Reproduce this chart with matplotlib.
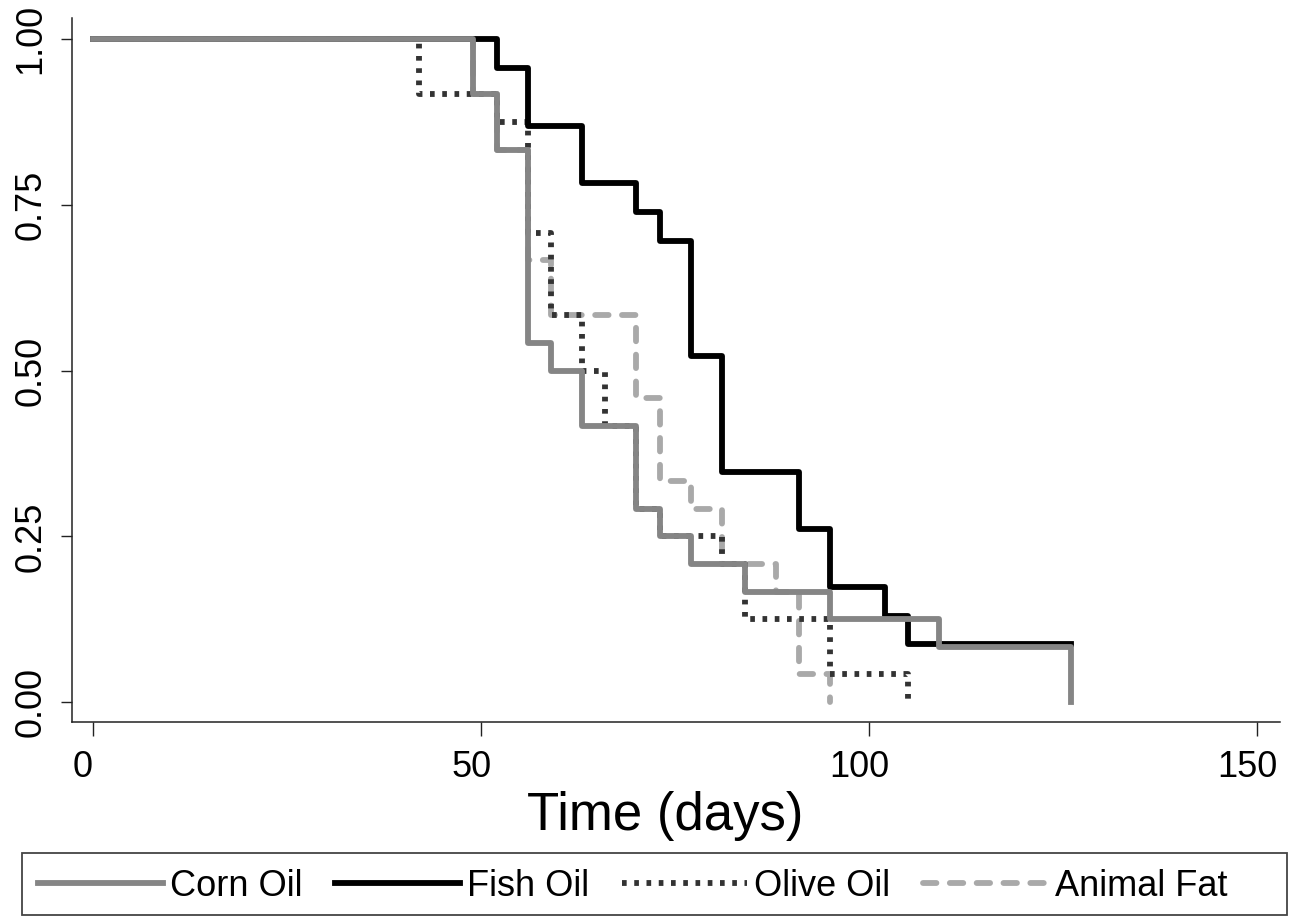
import matplotlib
matplotlib.use("Agg")
import matplotlib.pyplot as plt
import matplotlib.transforms as mtransforms
from matplotlib.patches import Rectangle

# Kaplan-Meier estimates (step post)
corn_t = [0, 49, 52, 56, 59, 63, 70, 73, 77, 84, 95, 109, 126]
corn_s = [1, 22/24, 20/24, 13/24, 12/24, 10/24, 7/24, 6/24, 5/24, 4/24, 3/24, 2/24, 0]

fish_t = [0, 52, 56, 63, 70, 73, 77, 81, 91, 95, 102, 105, 126]
fish_s = [1, 22/23, 20/23, 18/23, 17/23, 16/23, 12/23, 8/23, 6/23, 4/23, 3/23, 2/23, 2/23]

olive_t = [0, 42, 52, 56, 59, 63, 66, 70, 73, 81, 84, 95, 105]
olive_s = [1, 22/24, 21/24, 17/24, 14/24, 12/24, 10/24, 7/24, 6/24, 5/24, 3/24, 1/24, 0]

animal_t = [0, 49, 52, 56, 59, 70, 73, 77, 81, 88, 91, 95]
animal_s = [1, 22/24, 20/24, 16/24, 14/24, 11/24, 8/24, 7/24, 5/24, 4/24, 1/24, 0]

x_ticks = [0, 50, 100, 150]
y_ticks = [0, 0.25, 0.5, 0.75, 1.0]
y_ticklabels = ["0.00", "0.25", "0.50", "0.75", "1.00"]

plt.rcParams['font.family'] = ['Liberation Sans', 'DejaVu Sans']

W, H = 1298, 917
fig = plt.figure(figsize=(W/100, H/100), dpi=100)
ax = fig.add_axes([72/W, 1 - 722/H, (1280-72)/W, (722-18)/H])

lw = 4.2
ax.step(animal_t, animal_s, where='post', color='#a9a9a9', lw=lw,
        linestyle=(0, (2.3, 2.3)), dash_capstyle='round', label='Animal Fat', zorder=2)
ax.step(olive_t, olive_s, where='post', color='#333333', lw=lw,
        linestyle=(0, (0.8, 1.3)), dash_capstyle='butt', label='Olive Oil', zorder=3)
ax.step(fish_t, fish_s, where='post', color='black', lw=lw, label='Fish Oil', zorder=4)
ax.step(corn_t, corn_s, where='post', color='#858585', lw=lw, label='Corn Oil', zorder=5)

ax.set_xlim(-2.7, 152.9)
ax.set_ylim(-0.030, 1.032)

for s in ['top', 'right']:
    ax.spines[s].set_visible(False)
for s in ['left', 'bottom']:
    ax.spines[s].set_color('#222222')
    ax.spines[s].set_linewidth(1.1)

ax.set_xticks(x_ticks)
ax.set_yticks(y_ticks)
ax.set_yticklabels(y_ticklabels, rotation=90, va='center')
ax.tick_params(axis='x', direction='out', length=10, width=1, color='#222222', labelsize=26, pad=10)
ax.tick_params(axis='y', direction='out', length=8, width=1, color='#222222', labelsize=26, pad=9)

# labels sit slightly left of their ticks in the original
off = mtransforms.ScaledTranslation(-10/100, 0, fig.dpi_scale_trans)
for lab in ax.get_xticklabels():
    lab.set_transform(lab.get_transform() + off)

ax.set_xlabel("Time (days)", fontsize=38, labelpad=4)
ax.xaxis.set_label_coords((665-72)/(1280-72), -0.098)

handles, labels = ax.get_legend_handles_labels()
order = [3, 2, 1, 0]
leg = fig.legend([handles[i] for i in order], [labels[i] for i in order],
                 loc='center left', bbox_to_anchor=(20/W, 1 - 886/H),
                 ncol=4, frameon=False, fontsize=26, borderpad=0,
                 handlelength=3.46, handletextpad=0.2, columnspacing=0.9)

box = Rectangle((22/W, 1 - 915/H), (1287-22)/W, (915-853)/H, transform=fig.transFigure,
                fill=False, edgecolor='#444444', lw=1.3)
fig.patches.append(box)

fig.savefig("out.png", dpi=100)
